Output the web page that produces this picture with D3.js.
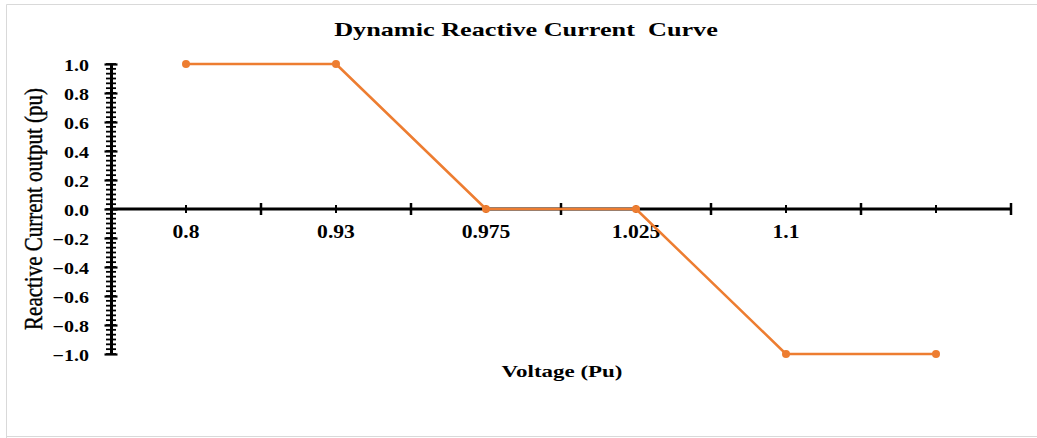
<!DOCTYPE html>
<html>
<head>
<meta charset="utf-8">
<script src="https://cdn.jsdelivr.net/npm/d3@7"></script>
<style>
  html, body { margin: 0; padding: 0; background: #fff; }
  svg { display: block; }
  text { font-family: "Liberation Serif", "Times New Roman", serif; fill: #000; }
</style>
</head>
<body>
<svg id="chart" width="1037" height="438"></svg>
<script>
// Voltage categories (last category has no label) and reactive current values
const categories = ["0.8", "0.93", "0.975", "1.025", "1.1", ""];
const currentValues = [1.0, 1.0, 0.0, 0.0, -1.0, -1.0];
const yTickValues = [1.0, 0.8, 0.6, 0.4, 0.2, 0.0, -0.2, -0.4, -0.6, -0.8, -1.0];

const svg = d3.select("#chart");
const W = 1037, H = 438;

// light frame around the chart area
svg.append("path")
  .attr("d", `M6.5,${H + 2} V4.5 H${W + 2} M6.5,436.5 H${W + 2}`)
  .attr("fill", "none")
  .attr("stroke", "#d9d9d9")
  .attr("stroke-width", 1);

const plot = { left: 111, right: 1011, top: 64, bottom: 354 };

const x = d3.scaleBand()
  .domain(d3.range(categories.length))
  .range([plot.left, plot.right])
  .paddingInner(0).paddingOuter(0);

const y = d3.scaleLinear().domain([-1, 1]).range([plot.bottom, plot.top]);

const xc = i => x(i) + x.bandwidth() / 2;

// Title (wide bold serif)
svg.append("text")
  .attr("transform", "translate(526,36) scale(1.38,1)")
  .attr("text-anchor", "middle")
  .attr("font-size", 19).attr("font-weight", "bold")
  .style("white-space", "pre")
  .text("Dynamic Reactive Current  Curve");

// Y axis: minor ticks crossing the axis line
const minorVals = d3.range(-30, 31).map(k => k / 30);
svg.append("g").selectAll("line.minor")
  .data(minorVals)
  .join("line")
  .attr("x1", plot.left - 5).attr("x2", plot.left + 5)
  .attr("y1", d => y(d)).attr("y2", d => y(d))
  .attr("stroke", "#000").attr("stroke-width", 1.8);

// Y axis line and major ticks/labels
const yAxis = d3.axisLeft(y)
  .tickValues(yTickValues)
  .tickFormat(d3.format(".1f"))
  .tickSizeInner(6).tickSizeOuter(0).tickPadding(0);
const gy = svg.append("g").attr("transform", `translate(${plot.left},0)`).call(yAxis);
gy.select(".domain").attr("stroke", "#000").attr("stroke-width", 3);
gy.selectAll(".tick line").attr("stroke", "#000").attr("stroke-width", 2.2).attr("x1", 6.5).attr("x2", -6.5);
gy.selectAll(".tick text")
  .attr("x", 0).attr("dy", null)
  .attr("transform", "translate(-22,6) scale(1.25,1)")
  .attr("font-family", "Liberation Serif, Times New Roman, serif")
  .attr("font-size", 16).attr("font-weight", "bold").attr("fill", "#000");

// X axis at y = 0
const y0 = y(0);
svg.append("line")
  .attr("x1", plot.left).attr("x2", plot.right)
  .attr("y1", y0).attr("y2", y0)
  .attr("stroke", "#000").attr("stroke-width", 3);

// category boundary ticks (long) and category centre ticks (short)
const boundaries = d3.range(categories.length).map(i => x(i) + x.bandwidth());
svg.append("g").selectAll("line")
  .data(boundaries)
  .join("line")
  .attr("x1", d => d).attr("x2", d => d)
  .attr("y1", y0 - 6).attr("y2", y0 + 6)
  .attr("stroke", "#000").attr("stroke-width", 2.5);
svg.append("g").selectAll("line")
  .data(d3.range(categories.length))
  .join("line")
  .attr("x1", d => xc(d)).attr("x2", d => xc(d))
  .attr("y1", y0 - 4).attr("y2", y0 + 4)
  .attr("stroke", "#000").attr("stroke-width", 2);

// category labels
svg.append("g").selectAll("text")
  .data(categories)
  .join("text")
  .attr("transform", (d, i) => `translate(${xc(i)},${y0 + 29}) scale(1.2,1)`)
  .attr("text-anchor", "middle")
  .attr("font-size", 18).attr("font-weight", "bold")
  .text(d => d);

// Axis titles
svg.append("text")
  .attr("transform", `translate(42,${(plot.top + plot.bottom) / 2}) rotate(-90) scale(1,1.22)`)
  .attr("text-anchor", "middle")
  .attr("font-size", 21)
  .attr("stroke", "#000").attr("stroke-width", 0.35)
  .text("Reactive Current output (pu)");

svg.append("text")
  .attr("transform", "translate(562,377) scale(1.35,1)")
  .attr("text-anchor", "middle")
  .attr("font-size", 17).attr("font-weight", "bold")
  .text("Voltage (Pu)");

// Series line and markers
const line = d3.line().x((d, i) => xc(i)).y(d => y(d));
svg.append("path")
  .datum(currentValues)
  .attr("d", line)
  .attr("fill", "none")
  .attr("stroke", "#ED7D31")
  .attr("stroke-width", 2.5)
  .attr("stroke-linejoin", "round");

svg.append("g").selectAll("circle")
  .data(currentValues)
  .join("circle")
  .attr("cx", (d, i) => xc(i))
  .attr("cy", d => y(d))
  .attr("r", 4)
  .attr("fill", "#ED7D31");
</script>
</body>
</html>
